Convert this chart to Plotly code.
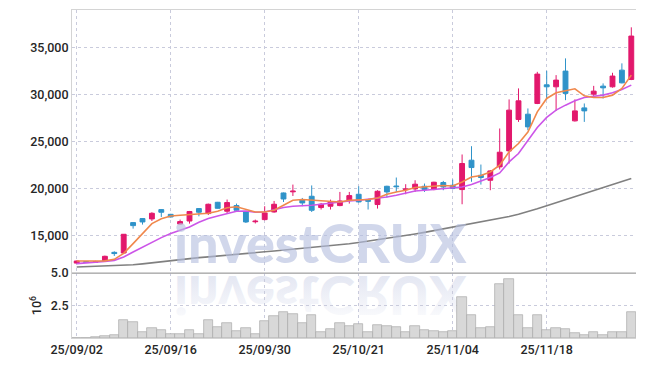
import base64
import plotly.graph_objects as go

dates = ["25/09/02", "25/09/03", "25/09/04", "25/09/05", "25/09/08", "25/09/09", "25/09/10", "25/09/11",
         "25/09/12", "25/09/15", "25/09/16", "25/09/17", "25/09/18", "25/09/19", "25/09/22", "25/09/23",
         "25/09/24", "25/09/25", "25/09/26", "25/09/29", "25/09/30", "25/10/01", "25/10/02", "25/10/10",
         "25/10/13", "25/10/14", "25/10/15", "25/10/16", "25/10/17", "25/10/20", "25/10/21", "25/10/22",
         "25/10/23", "25/10/24", "25/10/27", "25/10/28", "25/10/29", "25/10/30", "25/10/31", "25/11/03",
         "25/11/04", "25/11/05", "25/11/06", "25/11/07", "25/11/10", "25/11/11", "25/11/12", "25/11/13",
         "25/11/14", "25/11/17", "25/11/18", "25/11/19", "25/11/20", "25/11/21", "25/11/24", "25/11/25",
         "25/11/26", "25/11/27", "25/11/28", "25/12/01"]

opens = [12060, 12220, 12150, 12280, 13200, 13130, 16360, 16790, 16750, 17740,
         17240, 16210, 16530, 17850, 17320, 18520, 17570, 18170, 17490, 16450,
         16680, 17490, 19510, 19630, 18810, 19160, 17960, 18100, 18170, 18730,
         19370, 18730, 18280, 20220, 20250, 19860, 19940, 20220, 19870, 20620,
         20330, 19870, 22990, 21390, 20860, 22280, 23980, 27320, 27880, 29020,
         31000, 30790, 32460, 27170, 28550, 30010, 30860, 30790, 32560, 31570]
highs = [12320, 12250, 12300, 12850, 13310, 15150, 16420, 16850, 17460, 17800,
         17290, 16680, 17600, 17900, 18380, 18560, 18810, 18380, 17550, 16680,
         18100, 18660, 19560, 20400, 18980, 20310, 18450, 18800, 19620, 19620,
         20220, 18800, 19800, 20280, 21150, 20440, 20860, 20510, 20700, 20790,
         20940, 23600, 24480, 22530, 21950, 26360, 29450, 30620, 28490, 32380,
         32490, 32030, 33810, 29450, 29020, 30890, 31150, 32280, 33280, 37110]
lows = [12040, 12080, 12100, 12250, 12820, 13100, 15720, 16150, 16530, 16960,
        16900, 16180, 16250, 17030, 17170, 17850, 17320, 17600, 16320, 16270,
        16600, 17420, 18550, 19190, 18100, 17490, 17750, 17750, 18100, 18380,
        18500, 17750, 17850, 19020, 19620, 19370, 19620, 19620, 19800, 19800,
        19900, 18310, 20700, 20400, 19800, 22000, 22640, 27060, 26180, 28950,
        29450, 28230, 29370, 27100, 27060, 29720, 29550, 30700, 31150, 31500]
closes = [12280, 12120, 12200, 12780, 13070, 15120, 16040, 16430, 17350, 17460,
          16960, 16470, 17540, 17460, 18310, 17880, 18490, 17670, 16430, 16510,
          17380, 18310, 18870, 19700, 18450, 17670, 18310, 18550, 18660, 19230,
          18560, 18640, 19690, 19620, 20180, 19930, 20440, 19870, 20650, 20150,
          19980, 22640, 22210, 21150, 21850, 23840, 28310, 29300, 26530, 32140,
          30790, 31500, 30090, 28230, 28230, 30330, 30680, 31930, 31210, 36180]

# volume in shares
volume = [20000, 30000, 80000, 150000, 230000, 1390000, 1240000, 460000, 770000, 620000,
          310000, 310000, 620000, 310000, 1390000, 850000, 1160000, 540000, 770000, 310000,
          1310000, 1700000, 2010000, 1860000, 1160000, 1780000, 460000, 700000, 1160000, 930000,
          1080000, 460000, 1010000, 930000, 850000, 460000, 930000, 620000, 540000, 460000,
          540000, 3170000, 1780000, 770000, 850000, 4120000, 4560000, 1780000, 770000, 1780000,
          620000, 770000, 700000, 390000, 230000, 460000, 230000, 460000, 460000, 2010000]

ma5 = [12277, 12277, 12280, 12298, 12457, 13096, 14128, 15224, 16255, 16766,
       17064, 17138, 17223, 17287, 17351, 17564, 17936, 18042, 17744, 17489,
       17489, 17670, 18202, 18734, 18808, 18734, 18660, 18628, 18553, 18734,
       18734, 18808, 18979, 19372, 19617, 19798, 20085, 20149, 20224, 20298,
       20255, 20681, 21213, 21362, 21745, 22458, 23873, 24766, 25976, 28128,
       29553, 30148, 30361, 30574, 29829, 29659, 29659, 29904, 30617, 32032]
ma10 = [12000, 12064, 12138, 12245, 12351, 12702, 13234, 13766, 14298, 14766,
        15191, 15543, 15893, 16393, 16787, 17064, 17319, 17564, 17596, 17457,
        17489, 17744, 17957, 18096, 18128, 18202, 18308, 18447, 18553, 18659,
        18734, 18840, 18979, 19085, 19266, 19511, 19723, 19798, 19904, 20011,
        20064, 20149, 20404, 20755, 21149, 21638, 22808, 23702, 25042, 26468,
        27532, 28308, 28840, 29298, 29659, 29797, 29904, 30149, 30510, 30968]
ma_long = [11640, 11670, 11700, 11740, 11780, 11810, 11880, 11980, 12100, 12230,
           12360, 12460, 12550, 12640, 12720, 12800, 12880, 12960, 13030, 13150,
           13260, 13350, 13440, 13530, 13620, 13710, 13800, 13900, 14000, 14120,
           14250, 14390, 14530, 14680, 14830, 14990, 15150, 15320, 15500, 15680,
           15870, 16050, 16230, 16410, 16590, 16780, 17000, 17250, 17520, 17830,
           18150, 18480, 18820, 19150, 19480, 19800, 20110, 20420, 20730, 21040]

price_ticks = [15000, 20000, 25000, 30000, 35000]
vol_ticks = [2.5, 5.0]
vol_tick_text = ["2.5", "5.0"]
date_ticks = dates[::10]

UP = "#e2186c"
DOWN = "#2f93c9"
GRID = "#c9cbdc"
FONT = "Roboto, sans-serif"

fig = go.Figure()

fig.add_trace(go.Bar(
    x=dates, y=[v / 1e6 for v in volume], xaxis="x2", yaxis="y2",
    marker=dict(color="#d8d8d8", line=dict(color="#a9a9a9", width=0.7)),
    showlegend=False, hoverinfo="skip"))

fig.add_trace(go.Candlestick(
    x=dates, open=opens, high=highs, low=lows, close=closes,
    xaxis="x", yaxis="y",
    increasing=dict(line=dict(color=UP, width=1), fillcolor=UP),
    decreasing=dict(line=dict(color=DOWN, width=1), fillcolor=DOWN),
    whiskerwidth=0, showlegend=False))

fig.add_trace(go.Scatter(x=dates, y=ma_long, mode="lines", line=dict(color="#808080", width=1.6),
                         xaxis="x", yaxis="y", showlegend=False))
fig.add_trace(go.Scatter(x=dates, y=ma10, mode="lines", line=dict(color="#cc55e8", width=1.6),
                         xaxis="x", yaxis="y", showlegend=False))
fig.add_trace(go.Scatter(x=dates, y=ma5, mode="lines", line=dict(color="#f0884c", width=1.6),
                         xaxis="x", yaxis="y", showlegend=False))

# watermark reflection (flipped text)
svg = ("<svg xmlns='http://www.w3.org/2000/svg' width='300' height='40'>"
       "<defs><linearGradient id='g' x1='0' y1='0' x2='0' y2='1'>"
       "<stop offset='0' stop-color='#c3cae3' stop-opacity='0'/>"
       "<stop offset='1' stop-color='#c3cae3' stop-opacity='0.55'/></linearGradient></defs>"
       "<g transform='scale(1,-1)'><text x='150' y='-1' text-anchor='middle' font-family='Lato' "
       "font-weight='900' font-size='54' fill='url(#g)'>investCRUX</text></g></svg>")
src = "data:image/svg+xml;base64," + base64.b64encode(svg.encode()).decode()
fig.add_layout_image(dict(source=src, xref="paper", yref="paper",
                          x=(320 - 71.7) / 564.3, y=(337.5 - 275) / 327.5,
                          sizex=300 / 564.3, sizey=40 / 327.5, xanchor="center", yanchor="top",
                          sizing="stretch", layer="below"))

fig.add_annotation(text="investCRUX", xref="paper", yref="paper",
                   x=(320 - 71.7) / 564.3, y=(337.5 - 277) / 327.5,
                   xanchor="center", yanchor="bottom", showarrow=False,
                   font=dict(family="Lato", size=54, color="rgba(180,190,222,0.62)", weight=900))

# separator between price and volume panels
fig.add_shape(type="line", xref="paper", yref="paper", x0=0, x1=1, y0=0.198, y1=0.198,
              line=dict(color="#9a9a9a", width=1))

axis_font = dict(family=FONT, size=12.5, color="#262626", weight=500)

fig.update_layout(
    width=645, height=366,
    margin=dict(l=72, r=9, t=10, b=28, autoexpand=False),
    plot_bgcolor="white", paper_bgcolor="white",
    showlegend=False, bargap=0, boxgap=0.26,
    font=axis_font,
    xaxis=dict(type="category", domain=[0, 1], anchor="y", range=[-0.5, len(dates) - 0.5],
               tickvals=date_ticks, showticklabels=False, ticks="", automargin=False,
               showgrid=True, gridcolor=GRID, griddash="dot", gridwidth=1,
               showline=True, linecolor="#d4d4d4", linewidth=1, mirror=True,
               rangeslider=dict(visible=False)),
    xaxis2=dict(type="category", anchor="y2", matches="x", range=[-0.5, len(dates) - 0.5],
                tickvals=date_ticks, ticktext=date_ticks, ticks="", automargin=False,
                showgrid=True, gridcolor=GRID, griddash="dot", gridwidth=1,
                showline=True, linecolor="#d4d4d4", linewidth=1,
                tickfont=axis_font, rangeslider=dict(visible=False)),
    yaxis=dict(domain=[0.198, 1], range=[11000, 38950], tickvals=price_ticks, tickformat=",",
               showgrid=True, gridcolor=GRID, griddash="dot", gridwidth=1, zeroline=False,
               showline=True, linecolor="#d4d4d4", linewidth=1, ticks="", automargin=False,
               tickfont=axis_font),
    yaxis2=dict(domain=[0, 0.198], range=[0, 5.0], tickvals=vol_ticks, ticktext=vol_tick_text,
                showgrid=True, gridcolor=GRID, griddash="dot", gridwidth=1, zeroline=False,
                showline=True, linecolor="#d4d4d4", linewidth=1, ticks="", automargin=False,
                tickfont=axis_font,
                title=dict(text="10<sup>6</sup>", font=dict(family=FONT, size=12.5, color="#262626"),
                           standoff=6)),
)

fig.write_html("out.html", config={"displayModeBar": False},
               post_script="document.body.style.margin='0';document.body.style.padding='0';")
